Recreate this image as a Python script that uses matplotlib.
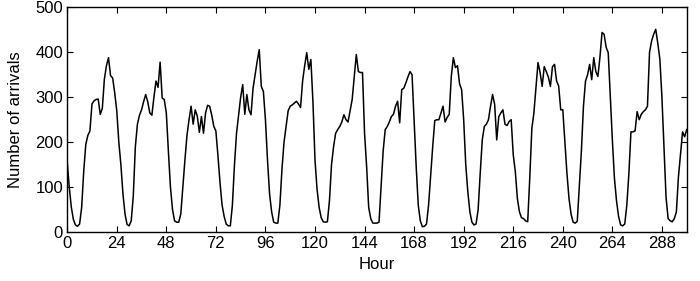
import matplotlib
matplotlib.use("Agg")
import matplotlib.pyplot as plt
import numpy as np

plt.rcParams['font.family'] = ['Liberation Sans Narrow', 'Liberation Sans', 'DejaVu Sans']

arrivals = [
    156, 100, 55, 28, 16, 13, 18, 55, 135, 195, 215, 225, 285, 292, 295, 296, 262, 275, 340, 370, 388, 348, 343, 310,
    270, 200, 150, 85, 40, 17, 14, 25, 80, 190, 240, 260, 272, 290, 306, 290, 265, 260, 300, 336, 322, 378, 298, 295,
    265, 180, 100, 50, 25, 22, 22, 40, 100, 160, 215, 250, 280, 240, 272, 258, 222, 257, 220, 265, 282, 280, 260, 235,
    225, 170, 110, 60, 35, 18, 14, 14, 60, 150, 220, 260, 300, 328, 262, 306, 272, 261, 320, 350, 380, 406, 324, 313,
    250, 160, 85, 45, 22, 20, 20, 60, 140, 200, 235, 270, 280, 283, 287, 291, 285, 277, 336, 370, 399, 362, 384, 290,
    160, 95, 55, 32, 23, 22, 23, 70, 150, 190, 220, 228, 235, 245, 261, 250, 245, 270, 295, 345, 395, 357, 355, 355,
    220, 146, 55, 30, 20, 20, 20, 22, 100, 180, 228, 235, 245, 257, 262, 280, 291, 243, 317, 320, 332, 345, 357, 350,
    250, 146, 60, 25, 12, 13, 18, 60, 125, 190, 248, 250, 250, 265, 280, 245, 255, 262, 346, 388, 366, 370, 330, 317,
    250, 150, 90, 45, 22, 16, 18, 50, 130, 205, 235, 240, 250, 280, 306, 284, 205, 257, 265, 272, 240, 237, 246, 250,
    172, 135, 75, 45, 32, 30, 25, 23, 120, 230, 265, 320, 377, 355, 324, 368, 357, 345, 324, 368, 373, 336, 325, 272,
    272, 200, 131, 75, 40, 22, 20, 24, 100, 180, 280, 336, 350, 373, 339, 388, 357, 346, 390, 444, 440, 411, 399, 300,
    205, 120, 70, 35, 16, 14, 18, 60, 130, 223, 223, 225, 268, 250, 262, 268, 272, 280, 400, 425, 440, 451, 420, 385,
    300, 190, 77, 30, 25, 23, 30, 45, 123, 172, 223, 212, 228,
]
hours = np.arange(len(arrivals))
xticks = list(range(0, 289, 24))
yticks = [0, 100, 200, 300, 400, 500]

fig = plt.figure(figsize=(7.0, 2.81), dpi=100)
ax = fig.add_axes([0.096, 0.174, 0.885, 0.80])
ax.plot(hours, arrivals, color='black', linewidth=1.1)
ax.set_xlim(0, 300)
ax.set_ylim(0, 500)
ax.set_xticks(xticks)
ax.set_yticks(yticks)
ax.tick_params(direction='in', top=True, right=True, labelsize=12, length=4, width=0.8, pad=3)
ax.set_xlabel('Hour', fontsize=12, labelpad=4)
ax.set_ylabel('Number of arrivals', fontsize=12, labelpad=9,
              family=['Liberation Sans', 'DejaVu Sans'])
for s in ax.spines.values():
    s.set_linewidth(1.0)
fig.savefig('out.png', dpi=100)
